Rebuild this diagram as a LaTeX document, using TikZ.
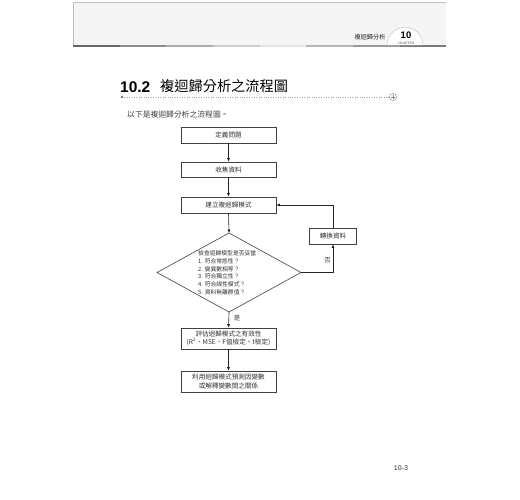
\documentclass[tikz,border=0pt]{standalone}
\usepackage{fontspec}
\setmainfont{Noto Sans CJK TC}
\newfontfamily\latinb{Liberation Sans}
\newfontfamily\latinserif{Liberation Serif}
\usetikzlibrary{arrows.meta,calc}
\begin{document}
\begin{tikzpicture}[x=1pt,y=-1pt,
  fbox/.style={draw=black!75,line width=0.6pt,minimum width=95pt,inner sep=0pt,align=center,font=\fontsize{6.6}{8.4}\selectfont,text=black!80},
  conn/.style={line width=0.6pt,draw=black!85,-{Latex[length=3.5pt,width=3pt]}},
  lbl/.style={font=\fontsize{6.4}{7}\selectfont,text=black!75,inner sep=0pt}]
\useasboundingbox (0,0) rectangle (520,500);
% header
\fill[black!4] (73,2) rectangle (446,46);
\draw[black!25,line width=0.4pt] (73,46) -- (73,2) -- (446,2);
\foreach \xa/\xb/\c in {73/120/60,120/166/45,166/213/32,213/260/20,260/306/10,306/353/28,353/400/40,400/446/52}
  \fill[black!\c] (\xa,45.2) rectangle (\xb,46.8);
\fill[white] (387,45.2) arc[start angle=180,end angle=360,radius=18] -- cycle;
\draw[black!22,line width=0.5pt] (387,45.2) arc[start angle=180,end angle=360,radius=18];
\node[font=\fontsize{6.2}{7}\selectfont,text=black!85,inner sep=0pt] (hdr) at (370,37) {複迴歸分析};
\node[font=\latinb\bfseries\fontsize{9.5}{10}\selectfont,inner sep=0pt] (chnum) at (406,35) {10};
\node[font=\latinserif\fontsize{3.6}{4}\selectfont,text=black!70,inner sep=0pt] (chap) at (406,43) {CHAPTER};
% title
\node[anchor=west,font=\latinb\bfseries\fontsize{15.5}{16}\selectfont,inner sep=0pt] (secnum) at (120,87) {10.2};
\node[anchor=west,font=\fontsize{14.2}{15}\selectfont,inner sep=0pt] (sectitle) at (160,86.5) {複迴歸分析之流程圖};
\draw[black!40,line width=0.4pt,dotted] (122,97) -- (389,97);
\fill[black!55] (122,97) circle (1.3);
\draw[black!50,line width=0.4pt] (393,97) circle (3.6);
\draw[black!50,line width=0.4pt] (393,94.6) -- (393,99.4) (390.6,97) -- (395.4,97);
\node[anchor=west,font=\fontsize{7.8}{9}\selectfont,text=black!75,inner sep=0pt] (intro) at (127,115) {以下是複迴歸分析之流程圖。};
% flowchart
\node[fbox,minimum height=16pt] (b1) at (228.5,135) {定義問題};
\node[fbox,minimum height=15pt] (b2) at (228.5,169.5) {收集資料};
\node[fbox,minimum height=16pt] (b3) at (228.5,205) {建立複迴歸模式};
\node[fbox,minimum width=47pt,minimum height=16pt] (b4) at (333,236) {轉換資料};
\coordinate (dT) at (229,233);
\coordinate (dR) at (301,272.5);
\coordinate (dB) at (229,312);
\coordinate (dL) at (157,272.5);
\draw[black!75,line width=0.6pt] (dT) -- (dR) -- (dB) -- (dL) -- cycle;
\node[anchor=north west,align=left,inner sep=0pt,font=\fontsize{5.8}{7.7}\selectfont,text=black!80] (dtext) at (198,250.5)
  {檢查迴歸模型是否妥當：\\1. 符合常態性？\\2. 變異數相等？\\3. 符合獨立性？\\4. 符合線性模式？\\5. 資料無離群值？};
\node[fbox,minimum height=21pt] (b5) at (228.5,338.5) {評估迴歸模式之有效性\\(R\textsuperscript{2}、MSE、F值檢定、t檢定)};
\node[fbox,minimum height=21pt] (b6) at (228.5,381.5) {利用迴歸模式預測因變數\\或解釋變數間之關係};
\draw[conn] (b1) -- (b2);
\draw[conn] (b2) -- (b3);
\draw[conn] (b3.south) -- (dT);
\draw[conn] (dB) -- (b5.north);
\draw[conn] (b5) -- (b6);
\draw[conn] (dR) -| (b4.south);
\draw[conn] (b4.north) |- (b3.east);
\node[lbl] (yes) at (237,318.5) {是};
\node[lbl] (no) at (327.5,260) {否};
% page number
\node[font=\latinb\fontsize{7}{8}\selectfont,text=black!80,inner sep=0pt] (pg) at (401,468.5) {10-3};
\end{tikzpicture}
\end{document}
